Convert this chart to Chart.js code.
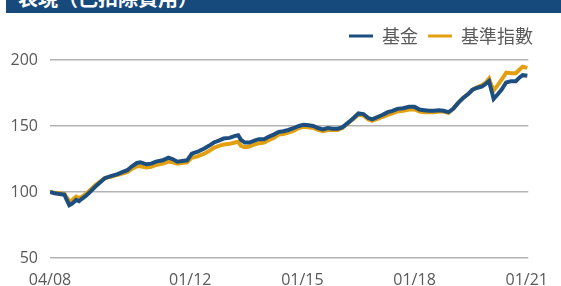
<!DOCTYPE html>
<html>
<head>
<meta charset="utf-8">
<script src="https://cdn.jsdelivr.net/npm/chart.js@4"></script>
<style>
  html, body { margin:0; padding:0; background:#fff; }
  #wrap { position:relative; width:561px; height:286px; overflow:hidden; }
  #bar { position:absolute; left:6px; top:0; width:555px; height:13px; background:#174a7c; overflow:hidden; }
  #bar span { position:absolute; left:12px; top:-12px; line-height:20px; font-size:20px; font-weight:bold; color:#fff;
     font-family:"Noto Sans CJK TC","Noto Sans CJK SC",sans-serif; white-space:nowrap; }
  canvas { position:absolute; left:0; top:0; }
</style>
</head>
<body>
<div id="wrap">
  <canvas id="c" width="561" height="286"></canvas>
  <div id="bar"><span>表現（已扣除費用）</span></div>
</div>
<script>
// months since 04/2008
const months = [0,1.5,3,4.6,6.2,7,8.4,9.3,10,11.5,12.4,14.5,16.4,17.6,19.5,21.7,23.2,24.8,26.3,27.9,29,31,32.5,34,36.2,38,39.3,40.9,42.4,44,45.5,47.4,49.5,51,52.6,54.2,55.7,57.6,59.4,60.4,61.3,62.5,64,65.6,67,68.7,70.3,71.8,73.4,74.9,76.5,78.3,79.9,81.4,83,84.5,86,87.6,89.2,90.7,92.3,93.8,95.4,96.9,99,100.6,102.2,103.4,105.3,106.8,108.4,109.9,111.5,113.3,115.2,117,118.6,120.1,121.7,123.2,124.8,126.3,127.9,129.4,131,132.5,134.1,135.6,137.2,138.7,139.9,140.9,141.8,142.4,143.7,144.9,146.4,148,149.5,150.8,151.7,153.2];
const fund = [100,99,98.5,98,90,91,94,93,94.5,97,99,104,108,110.5,112,113.5,115,116.5,119.5,122,122.5,121,121.5,123,124,126,125,123,123.5,124,129,130.5,133,135,137.5,139,140.5,141,142.5,143,139.5,137.5,137.5,139,140,140,142,143.5,145.5,146,147,148.5,150,151,150.5,150,148.5,147.5,148.5,148,148,149,152,155,159.5,159,156,155,157,158.5,160.5,161.5,163,163.5,164.5,164.5,162.5,162,161.5,161.5,162,161.5,160.5,163,167.5,171,174,177.5,179,180,182,184,176,170.5,174,177.5,183,184,184,187,188.5,188];
const bench = [100,99.5,99,98.5,93,93.5,96.5,95.5,96,98.5,100.5,105,108.5,110.5,111.5,113,114,115,117.5,119.5,119.5,118.5,119,120.5,121.5,123,122.5,121.5,122,122.5,126,127,129,131,133.5,135,136,136.5,137.5,138,135,134,134.5,136,137,137.5,139.5,141,143.5,144,145,146.5,148.5,149.5,149,148.5,147,146,147,147,147,148.5,151.5,154.5,158.5,158,155,154,155.5,157,158.5,159.5,161,161.5,162.5,162.5,161,160.5,160.5,160.5,161,161,160,163,167.5,171,174,177.5,179.5,181,183,186,180,177,181,185,190.5,190,190,193,195,194];
const tickMonths = [0,45,81,117,153];
const tickLabels = ['04/08','01/12','01/15','01/18','01/21'];
const yTicks = [50,100,150,200];
const seriesNames = ['基金','基準指數'];

const BLUE = '#1d4e80', ORANGE = '#e2a010';
const pts = arr => months.map((m,i)=>({x:m,y:arr[i]}));
const FONT = '"Open Sans","Noto Sans CJK TC",sans-serif';

new Chart(document.getElementById('c'), {
  type:'line',
  data:{ datasets:[
    {label:seriesNames[0], data:pts(fund), borderColor:BLUE, backgroundColor:BLUE, borderWidth:4, pointRadius:0, tension:0},
    {label:seriesNames[1], data:pts(bench), borderColor:ORANGE, backgroundColor:ORANGE, borderWidth:4, pointRadius:0, tension:0}
  ]},
  options:{
    responsive:false, animation:false,
    layout:{padding:{top:17,right:18,bottom:0,left:0}},
    plugins:{
      tooltip:{enabled:false},
      legend:{position:'top', align:'end',
        labels:{boxWidth:24, boxHeight:3, padding:10, color:'#5a5a5a',
          font:{size:18, family:'"Noto Sans CJK TC",sans-serif'},
          generateLabels: chart => chart.data.datasets.map((d,i)=>({
            text:d.label, fillStyle:d.borderColor, strokeStyle:d.borderColor, lineWidth:0,
            fontColor:'#5a5a5a', hidden:false, datasetIndex:i}))
        }}
    },
    scales:{
      x:{type:'linear', min:0, max:153.5,
        afterBuildTicks: s => { s.ticks = tickMonths.map(v=>({value:v})); },
        afterFit: s => { s.height = 28; },
        grid:{display:false, drawTicks:false}, border:{display:false},
        ticks:{autoSkip:false, maxRotation:0, padding:13, color:'#595959', font:{size:16, family:FONT},
          callback:(v)=>{ const i = tickMonths.indexOf(v); return i>=0 ? tickLabels[i] : ''; }}
      },
      y:{min:50, max:203.8,
        afterBuildTicks: s => { s.ticks = yTicks.map(v=>({value:v})); },
        afterFit: s => { s.width = 50; },
        grid:{color:'#b3b3b3', lineWidth:1.5, drawTicks:false}, border:{display:false},
        ticks:{padding:12, color:'#595959', font:{size:16, family:FONT}}
      }
    }
  }
});
</script>
</body>
</html>
